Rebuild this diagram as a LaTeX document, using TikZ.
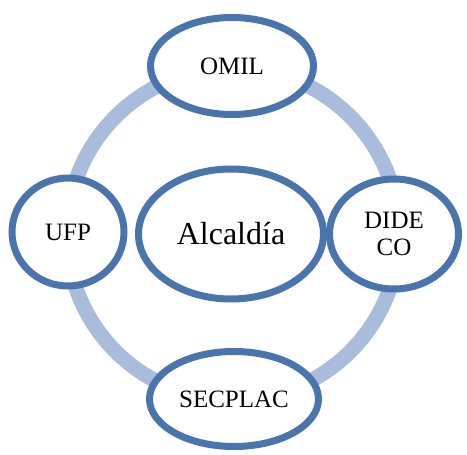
\documentclass[tikz,border=0pt]{standalone}
\usepackage{fontspec}
\setmainfont{Liberation Serif}
\usetikzlibrary{shapes.geometric}
\usetikzlibrary{shadows}
\definecolor{unitblue}{HTML}{4A74AC}
\definecolor{ringblue}{HTML}{A9BCDC}
\tikzstyle{unit}=[%
  ellipse,
  draw=unitblue,
  fill=white,
  line width=7pt,
  inner sep=0pt,
  align=center,
  font=\fontsize{25}{27}\selectfont,
  drop shadow={shadow xshift=0pt, shadow yshift=-3pt, opacity=0.12, fill=black}
]
\tikzstyle{ring}=[draw=ringblue, line width=15pt]

\begin{document}
\begin{tikzpicture}[x=1pt, y=-1pt]
      \useasboundingbox (0, 0) rectangle (467, 455);
      \coordinate (hub) at (233, 234);
      \draw[ring] (hub) circle (166pt);
      \node[unit, minimum width=185pt, minimum height=130pt,
            font=\fontsize{32}{34}\selectfont] (alc) at (231, 234) {Alcald\'{\i}a};
      \node[unit, minimum width=163pt, minimum height=97pt] (omil) at (232, 66) {OMIL};
      \node[unit, minimum width=112pt, minimum height=108pt] (ufp) at (68, 232) {UFP};
      \node[unit, minimum width=129pt, minimum height=110pt] (dideco) at (394, 234) {DIDE\\CO};
      \node[unit, minimum width=169pt, minimum height=95pt] (secplac) at (234, 399) {SECPLAC};
    \end{tikzpicture}
\end{document}
